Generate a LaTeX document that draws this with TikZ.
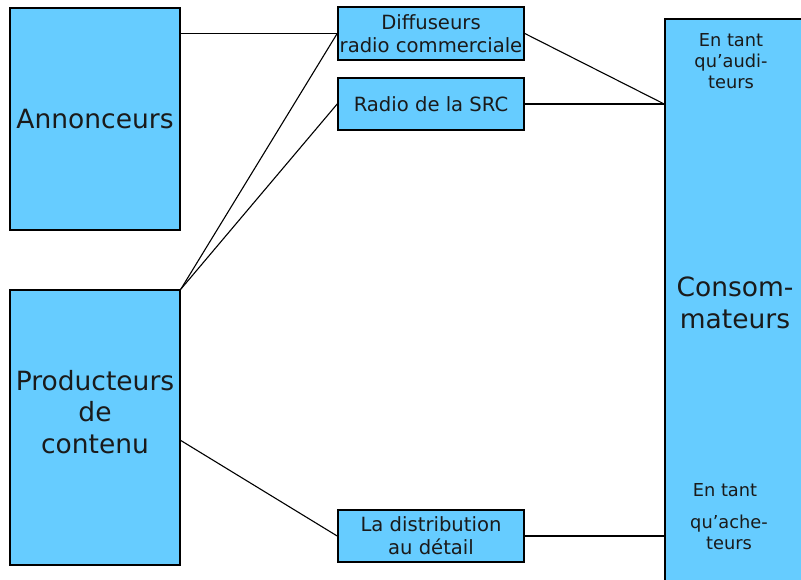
\documentclass[tikz,border=0pt]{standalone}
\usepackage{fontspec}
\setmainfont{DejaVu Sans}
\usepackage{xcolor}
\usepackage{tikz}
\usetikzlibrary{positioning}
\definecolor{boxblue}{HTML}{66CCFF}
\definecolor{ink}{HTML}{1A1A1A}

\begin{document}
\begin{tikzpicture}[x=1pt,y=-1pt,
  box/.style={draw=black, fill=boxblue, line width=1.6pt, inner sep=0pt, align=center, text=ink},
  bigtext/.style={font=\fontsize{26.5}{31.5}\selectfont, text=ink, align=center},
  smalltext/.style={font=\fontsize{19.6}{23}\selectfont},
  tinytext/.style={font=\fontsize{17.8}{21}\selectfont, text=ink, align=center},
  link/.style={line width=1.1pt}]
\useasboundingbox (0,0) rectangle (801,579);
\node[box, bigtext, minimum width=170pt, minimum height=222pt] (ann) at (95,119) {Annonceurs};
\node[box, minimum width=170pt, minimum height=275pt] (prod) at (95,427.5) {};
\node[bigtext] (prodlbl) at (95,412) {Producteurs\\de\\contenu};
\node[box, smalltext, minimum width=186pt, minimum height=53pt] (diff) at (431,33.5) {Diffuseurs\\radio commerciale};
\node[box, smalltext, minimum width=186pt, minimum height=52pt] (src) at (431,104) {Radio de la SRC};
\node[box, smalltext, minimum width=186pt, minimum height=52pt] (dist) at (431,536) {La distribution\\au détail};
\node[box, minimum width=140pt, minimum height=581pt] (cons) at (735,309.5) {};
\node[tinytext] (aud) at (731,61) {En tant\\qu’audi-\\teurs};
\node[bigtext] (conslbl) at (735,303) {Consom-\\mateurs};
\node[tinytext] (ach1) at (725,490) {En tant};
\node[tinytext] (ach2) at (729,532) {qu’ache-\\teurs};
% connecteurs
\coordinate (prodout) at (180,440);
\draw[link] (ann.east |- diff.west) -- (diff.west);
\draw[link] (prod.north east) -- (diff.west);
\draw[link] (prod.north east) -- (src.west);
\draw[link] (prodout) -- (dist.west);
\draw[link] (diff.east) -- (cons.west |- src.east);
\draw[link] (src.east) -- (cons.west |- src.east);
\draw[link] (dist.east) -- (cons.west |- dist.east);
\end{tikzpicture}
\end{document}
